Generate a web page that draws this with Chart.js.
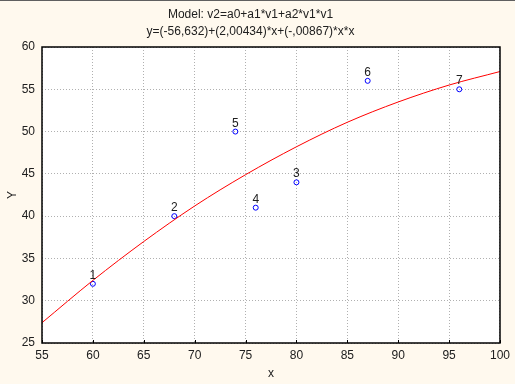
<!DOCTYPE html>
<html>
<head>
<meta charset="utf-8">
<script src="https://cdn.jsdelivr.net/npm/chart.js@4.4.1/dist/chart.umd.min.js"></script>
<style>
  html, body { margin: 0; padding: 0; background: #fff9ee; }
  #wrap { width: 515px; height: 384px; position: relative; }
</style>
</head>
<body>
<div id="wrap"><canvas id="grafico" width="515" height="384"></canvas></div>
<script>
// observed values
const etiquetas = ['1', '2', '3', '4', '5', '6', '7'];
const valoresX = [60, 68, 80, 76, 74, 87, 96];
const valoresY = [32, 40, 44, 41, 50, 56, 55];

// fitted curve
const curvaX = [55, 60, 65, 70, 75, 80, 85, 90, 95, 100];
const curvaY = [27.4, 32.4, 37.0, 41.2, 44.9, 48.2, 51.1, 53.5, 55.5, 57.1];

const ticksX = [55, 60, 65, 70, 75, 80, 85, 90, 95, 100];
const ticksY = [25, 30, 35, 40, 45, 50, 55, 60];

const titulo = ['Model: v2=a0+a1*v1+a2*v1*v1', 'y=(-56,632)+(2,00434)*x+(-,00867)*x*x'];

const fuente = { family: '"Liberation Sans", Arial, sans-serif', size: 12, weight: 'normal' };

const fondo = {
  id: 'fondo',
  beforeDraw(chart) {
    const { ctx, chartArea: a } = chart;
    ctx.save();
    ctx.fillStyle = '#fff9ee';
    ctx.fillRect(0, 0, chart.width, chart.height);
    ctx.fillStyle = '#606060';
    ctx.fillRect(0, 0, chart.width, 1);
    ctx.fillStyle = '#ffffff';
    ctx.fillRect(a.left, a.top, a.right - a.left, a.bottom - a.top);
    ctx.restore();
  },
  afterDatasetsDraw(chart) {
    const { ctx, chartArea: a } = chart;
    ctx.save();
    ctx.strokeStyle = '#000';
    ctx.lineWidth = 1.5;
    ctx.strokeRect(a.left, a.top, a.right - a.left, a.bottom - a.top);
    // small inward ticks on the bottom axis
    ctx.lineWidth = 1;
    const sx = chart.scales.x;
    ticksX.forEach(v => {
      const px = Math.round(sx.getPixelForValue(v)) + 0.5;
      ctx.beginPath();
      ctx.moveTo(px, a.bottom);
      ctx.lineTo(px, a.bottom - 3);
      ctx.stroke();
    });
    // labels above the points
    const meta = chart.getDatasetMeta(1);
    ctx.font = '12px "Liberation Sans", Arial, sans-serif';
    ctx.fillStyle = '#202020';
    ctx.textAlign = 'center';
    ctx.textBaseline = 'alphabetic';
    meta.data.forEach((p, i) => {
      ctx.fillText(etiquetas[i], p.x, p.y - 5);
    });
    ctx.restore();
  }
};

new Chart(document.getElementById('grafico'), {
  type: 'scatter',
  data: {
    datasets: [
      {
        type: 'line',
        data: curvaX.map((x, i) => ({ x: x, y: curvaY[i] })),
        borderColor: '#ff0000',
        borderWidth: 1,
        pointRadius: 0,
        cubicInterpolationMode: 'monotone',
        fill: false
      },
      {
        data: valoresX.map((x, i) => ({ x: x, y: valoresY[i] })),
        borderColor: '#0000ff',
        backgroundColor: 'rgba(0,0,0,0)',
        borderWidth: 1,
        pointRadius: 2.5
      }
    ]
  },
  options: {
    responsive: false,
    animation: false,
    devicePixelRatio: 1,
    layout: { padding: { top: 0, right: 14, bottom: 0, left: 0 } },
    plugins: {
      legend: { display: false },
      tooltip: { enabled: false },
      title: {
        display: true,
        text: titulo,
        color: '#202020',
        font: { family: fuente.family, size: 12, weight: 'normal', lineHeight: 17 / 12 },
        padding: { top: 6.5, bottom: 6.5 }
      }
    },
    scales: {
      x: {
        type: 'linear',
        min: 55,
        max: 100,
        afterBuildTicks(s) { s.ticks = ticksX.map(v => ({ value: v })); },
        afterFit(s) { s.height = 41; },
        grid: { color: '#b0b0b0', lineWidth: 1, drawTicks: false },
        border: { display: false, dash: [1, 2] },
        ticks: { color: '#202020', font: fuente, padding: 5, maxRotation: 0 },
        title: { display: true, text: 'x', color: '#202020', font: fuente, padding: { top: 4, bottom: 3 } }
      },
      y: {
        type: 'linear',
        min: 25,
        max: 60,
        afterBuildTicks(s) { s.ticks = ticksY.map(v => ({ value: v })); },
        afterFit(s) { s.width = 42; },
        grid: { color: '#b0b0b0', lineWidth: 1, drawTicks: false },
        border: { display: false, dash: [1, 2] },
        ticks: { color: '#202020', font: fuente, padding: 7 },
        title: { display: true, text: 'Y', color: '#202020', font: fuente, padding: { top: 5, bottom: 0 } }
      }
    }
  },
  plugins: [fondo]
});
</script>
</body>
</html>
